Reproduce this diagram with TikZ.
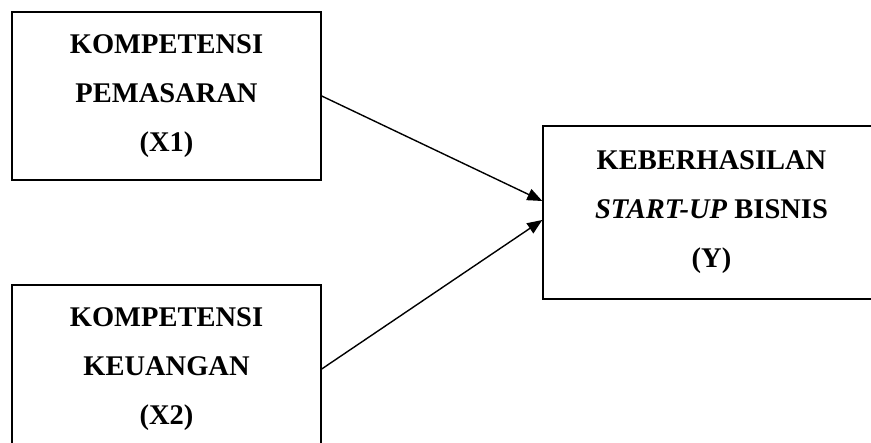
\documentclass[tikz,border=0pt]{standalone}
\usepackage{fontspec}
\setmainfont{Liberation Serif}
\usetikzlibrary{arrows.meta}
\tikzset{
  varbox/.style={draw, line width=1.4pt, inner sep=0pt, align=center,
    font=\bfseries\fontsize{28.5}{49}\selectfont},
  link/.style={line width=1.4pt, -{Triangle[length=15pt,width=12pt]}}
}
\begin{document}
\begin{tikzpicture}[x=1pt,y=-1pt]
\useasboundingbox (0,0) rectangle (871,443);
\clip (0,0) rectangle (871,443);
\node[varbox, minimum width=309pt, minimum height=168pt] (x1) at (166.5,96)
  {KOMPETENSI\\PEMASARAN\\(X1)};
\node[varbox, minimum width=309pt, minimum height=168pt] (x2) at (166.5,369)
  {KOMPETENSI\\KEUANGAN\\(X2)};
\node[varbox, minimum width=337pt, minimum height=173pt] (y) at (711.5,212.5)
  {KEBERHASILAN\\\textit{START-UP} BISNIS\\(Y)};
\draw[link] (x1.east) -- ([yshift=11.5pt]y.west);
\draw[link] (x2.east) -- ([yshift=-7.5pt]y.west);
\end{tikzpicture}
\end{document}
